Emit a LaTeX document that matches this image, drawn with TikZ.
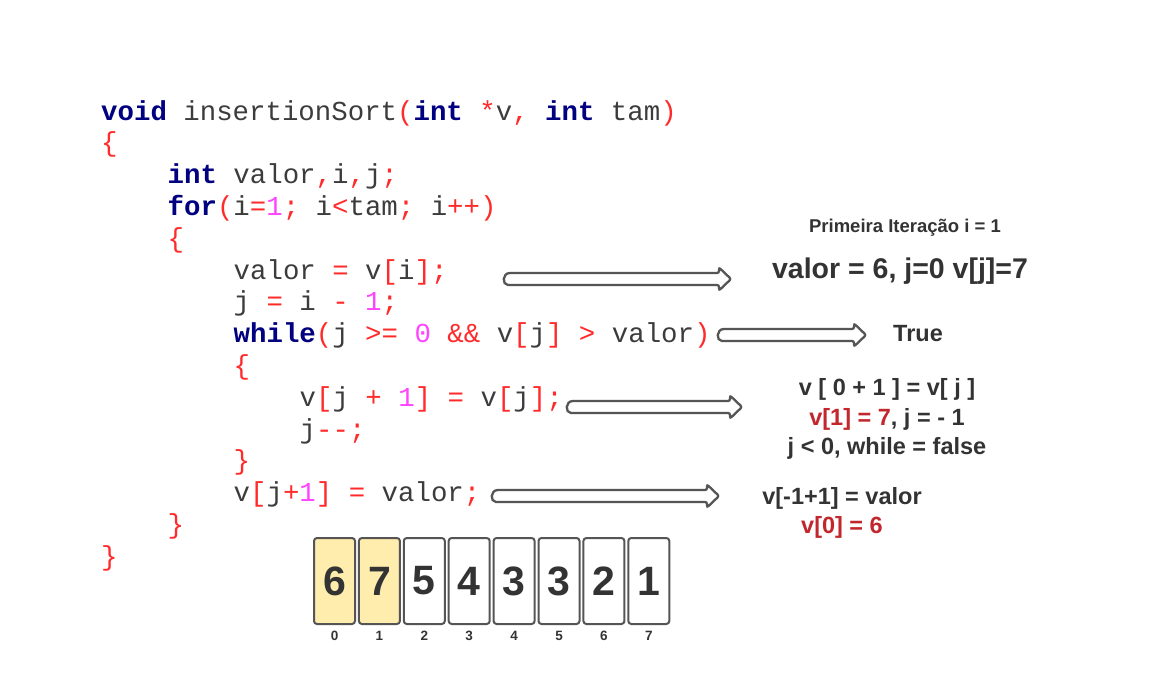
\documentclass[tikz,border=0pt]{standalone}
\usepackage{fontspec}
\setmainfont{Liberation Sans}
\newfontfamily\codefont{Liberation Mono}
\usetikzlibrary{calc, positioning}
\definecolor{kwblue}{HTML}{000080}
\definecolor{opred}{HTML}{FF2A2A}
\definecolor{numpink}{HTML}{FF44FF}
\definecolor{codegray}{HTML}{3C3C3C}
\definecolor{txtgray}{HTML}{333333}
\definecolor{hotred}{HTML}{C1272D}
\definecolor{cellyellow}{HTML}{FFEDAD}
\definecolor{linegray}{HTML}{555555}
\newcommand{\kw}[1]{\textcolor{kwblue}{\bfseries #1}}
\newcommand{\op}[1]{\textcolor{opred}{#1}}
\newcommand{\nm}[1]{\textcolor{numpink}{#1}}
\tikzstyle{code} = [anchor=base west, inner sep=0pt, font=\codefont\fontsize{27.4}{32}\selectfont, text=codegray]
\tikzstyle{note} = [align=center, inner sep=0pt, text=txtgray, font=\bfseries\fontsize{23.5}{29.5}\selectfont]
\tikzstyle{cell} = [rectangle, rounded corners=3pt, minimum width=41pt, minimum height=86pt, inner sep=0pt, draw=linegray, line width=2pt, fill=white, text=txtgray, font=\bfseries\fontsize{41}{41}\selectfont]
\tikzstyle{hot} = [fill=cellyellow]
\tikzstyle{idx} = [inner sep=0pt, text=txtgray, font=\bfseries\fontsize{13.5}{13.5}\selectfont]
\tikzstyle{fatarrow} = [draw=linegray, fill=white, line width=2.3pt, rounded corners=2pt,
  to path={let \p1=(\tikztostart), \p2=(\tikztotarget) in
    (\x1,\y1+6pt) -- (\x2-12pt,\y1+6pt) -- (\x2-12pt,\y1+11.5pt) -- (\x2,\y1) -- (\x2-12pt,\y1-11.5pt)
    -- (\x2-12pt,\y1-6pt) -- (\x1,\y1-6pt) [sharp corners] .. controls (\x1-8pt,\y1-6pt) and (\x1-8pt,\y1+6pt) .. (\x1,\y1+6pt) -- cycle}]

\begin{document}
\begin{tikzpicture}[x=1pt, y=-1pt, node distance=1.9pt]
    \path[fill=white] (0,0) rectangle (1159,696);
    \useasboundingbox (0,0) rectangle (1159,696);

    \node (l1) [code] at (101,120) {\kw{void} insertionSort\op{(}\kw{int} \op{*}v\op{,} \kw{int} tam\op{)}};
    \node (l2) [code] at (101,151.8) {\op{\{}};
    \node (l3) [code] at (167.5,183.6) {\kw{int} valor\op{,}i\op{,}j\op{;}};
    \node (l4) [code] at (167.5,215.4) {\kw{for}\op{(}i\op{=}\nm{1}\op{;} i\op{<}tam\op{;} i\op{++)}};
    \node (l5) [code] at (167.5,247.2) {\op{\{}};
    \node (l6) [code] at (233.5,279) {valor \op{=} v\op{[}i\op{];}};
    \node (l7) [code] at (233.5,310.8) {j \op{=} i \op{-} \nm{1}\op{;}};
    \node (l8) [code] at (233.5,342.6) {\kw{while}\op{(}j \op{>=} \nm{0} \op{\&\&} v\op{[}j\op{]} \op{>} valor\op{)}};
    \node (l9) [code] at (233.5,374.4) {\op{\{}};
    \node (l10) [code] at (299.5,406.2) {v\op{[}j \op{+} \nm{1}\op{]} \op{=} v\op{[}j\op{];}};
    \node (l11) [code] at (299.5,438) {j\op{-{}-;}};
    \node (l12) [code] at (233.5,469.8) {\op{\}}};
    \node (l13) [code] at (233.5,501.6) {v\op{[}j\op{+}\nm{1}\op{]} \op{=} valor\op{;}};
    \node (l14) [code] at (167.5,533.4) {\op{\}}};
    \node (l15) [code] at (101,565.2) {\op{\}}};

    \node (iter) [note, font=\bfseries\fontsize{18.5}{22}\selectfont] at (905,228) {Primeira Iteração i = 1};
    \node (valor) [note, font=\bfseries\fontsize{28.5}{34}\selectfont] at (900,271) {valor = 6, j=0 v[j]=7};
    \node (true) [note] at (918,334) {True};
    \node (swap) [note] at (887,419) {v [ 0 + 1 ] = v[ j ]\\\textcolor{hotred}{v[1] = 7}, j = - 1\\j < 0, while = false};
    \node (place) [note] at (842,513) {v[-1+1] = valor\\\textcolor{hotred}{v[0] = 6}};

    \coordinate (a1s) at (510,279);
    \coordinate (a1e) at (731,279);
    \coordinate (a2s) at (724,335);
    \coordinate (a2e) at (866,335);
    \coordinate (a3s) at (573,407);
    \coordinate (a3e) at (742,407);
    \coordinate (a4s) at (498,496);
    \coordinate (a4e) at (719,496);
    \draw [fatarrow] (a1s) to (a1e);
    \draw [fatarrow] (a2s) to (a2e);
    \draw [fatarrow] (a3s) to (a3e);
    \draw [fatarrow] (a4s) to (a4e);

    \node (c0) [cell, hot] at (334.5,581) {6};
    \node (c1) [cell, hot, right=of c0] {7};
    \node (c2) [cell, right=of c1] {5};
    \node (c3) [cell, right=of c2] {4};
    \node (c4) [cell, right=of c3] {3};
    \node (c5) [cell, right=of c4] {3};
    \node (c6) [cell, right=of c5] {2};
    \node (c7) [cell, right=of c6] {1};

    \node (i0) [idx, below=6pt of c0] {0};
    \node (i1) [idx, below=6pt of c1] {1};
    \node (i2) [idx, below=6pt of c2] {2};
    \node (i3) [idx, below=6pt of c3] {3};
    \node (i4) [idx, below=6pt of c4] {4};
    \node (i5) [idx, below=6pt of c5] {5};
    \node (i6) [idx, below=6pt of c6] {6};
    \node (i7) [idx, below=6pt of c7] {7};
\end{tikzpicture}
\end{document}
